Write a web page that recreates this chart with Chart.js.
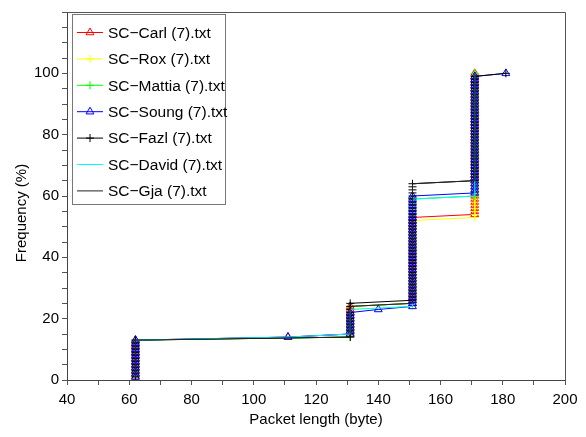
<!DOCTYPE html>
<html>
<head>
<meta charset="utf-8">
<script src="https://cdn.jsdelivr.net/npm/chart.js@4.4.0/dist/chart.umd.min.js"></script>
<style>
  body { margin: 0; background: #fff; }
  #wrap { width: 586px; height: 437px; }
</style>
</head>
<body>
<div id="wrap"><canvas id="cdf" width="586" height="437"></canvas></div>
<script>
// packet lengths seen in the captures (byte)
const lengths = [62, 111, 131, 140, 151, 171, 181];

// number of packets of each length, one array per capture file
const carl   = [13, 1, 10, 0, 29, 47, 0];
const rox    = [13, 0, 10, 0, 29, 48, 0];
const mattia = [13, 0, 11, 0, 35, 41, 0];
const soung  = [13, 1,  8, 1, 37, 39, 1];
const fazl   = [13, 0, 12, 0, 39, 35, 1];
const david  = [13, 1,  9, 0, 36, 41, 0];
const gja    = [13, 0, 11, 0, 40, 36, 0];

const names  = ['SC\u2212Carl (7).txt', 'SC\u2212Rox (7).txt', 'SC\u2212Mattia (7).txt',
                'SC\u2212Soung (7).txt', 'SC\u2212Fazl (7).txt', 'SC\u2212David (7).txt', 'SC\u2212Gja (7).txt'];
const counts = [carl, rox, mattia, soung, fazl, david, gja];
const colors = ['#ff0000', '#ffff00', '#00ff00', '#0000ff', '#000000', '#00ffff', '#222222'];
const marks  = ['triangle', 'cross', 'cross', 'triangle', 'cross', null, null];

const xTicks = [40, 60, 80, 100, 120, 140, 160, 180, 200];
const yTicks = [0, 20, 40, 60, 80, 100];

const FONT = 'Liberation Sans, Arial, Helvetica, sans-serif';

// cumulative frequency: one point per packet, sorted by length
function cdf(c) {
    var total = c.reduce(function (a, b) { return a + b; }, 0);
    var pts = [];
    var n = 0;
    for (let i = 0; i < lengths.length; i++) {
        for (let k = 0; k < c[i]; k++) {
            n++;
            pts.push({ x: lengths[i], y: n / total * 100 });
        }
    }
    return pts;
}

var datasets = [];
for (let i = 0; i < names.length; i++) {
    datasets.push({
        label: names[i],
        data: cdf(counts[i]),
        borderColor: colors[i],
        borderWidth: 1,
        pointStyle: marks[i] || 'circle',
        pointRadius: marks[i] == 'triangle' ? 4.5 : (marks[i] ? 4 : 0),
        pointBorderColor: colors[i],
        pointBackgroundColor: 'rgba(0,0,0,0)',
        pointBorderWidth: 1,
        pointHoverRadius: 0,
        fill: false,
        tension: 0,
        order: names.length - 1 - i
    });
}

function drawMark(ctx, style, x, y, r) {
    ctx.beginPath();
    if (style == 'triangle') {
        ctx.moveTo(x, y - r);
        ctx.lineTo(x + r * 0.866, y + r * 0.5);
        ctx.lineTo(x - r * 0.866, y + r * 0.5);
        ctx.closePath();
    } else {
        ctx.moveTo(x, y - r); ctx.lineTo(x, y + r);
        ctx.moveTo(x - r, y); ctx.lineTo(x + r, y);
    }
    ctx.stroke();
}

// frame, y title and the legend box in the upper left corner
const extras = {
    id: 'extras',
    afterDatasetsDraw(chart) {
        const ctx = chart.ctx;
        const a = chart.chartArea;
        ctx.save();
        ctx.strokeStyle = '#555';
        ctx.lineWidth = 1;
        ctx.beginPath();
        ctx.moveTo(Math.round(a.left) + 0.5, Math.round(a.top) + 0.5);
        ctx.lineTo(Math.round(a.right) + 0.5, Math.round(a.top) + 0.5);
        ctx.lineTo(Math.round(a.right) + 0.5, Math.round(a.bottom) + 0.5);
        ctx.stroke();

        ctx.fillStyle = '#000';
        ctx.font = '15px ' + FONT;
        ctx.textAlign = 'center';
        ctx.textBaseline = 'middle';
        ctx.translate(22, 213);
        ctx.rotate(-Math.PI / 2);
        ctx.fillText('Frequency (%)', 0, 0);
        ctx.restore();

        ctx.save();
        ctx.fillStyle = '#fff';
        ctx.fillRect(72.5, 14.5, 153, 190);
        ctx.strokeStyle = '#777';
        ctx.lineWidth = 1;
        ctx.strokeRect(72.5, 14.5, 153, 190);
        ctx.font = '15.5px ' + FONT;
        ctx.textAlign = 'left';
        ctx.textBaseline = 'middle';
        for (let i = 0; i < names.length; i++) {
            var y = 32.5 + i * 26.4;
            ctx.strokeStyle = colors[i];
            ctx.beginPath();
            ctx.moveTo(77, y);
            ctx.lineTo(103, y);
            ctx.stroke();
            if (marks[i]) drawMark(ctx, marks[i], 90, y, marks[i] == 'triangle' ? 4.5 : 4);
            ctx.fillStyle = '#000';
            ctx.fillText(names[i], 108, y + 1);
        }
        ctx.restore();
    }
};

const ctx = document.getElementById('cdf').getContext('2d');
const chart = new Chart(ctx, {
    type: 'line',
    data: { datasets: datasets },
    options: {
        responsive: false,
        animation: false,
        devicePixelRatio: 1,
        layout: { padding: { top: 7, right: 21, left: 0, bottom: 0 } },
        plugins: { legend: { display: false }, tooltip: { enabled: false } },
        scales: {
            x: {
                type: 'linear',
                min: 40,
                max: 200,
                afterFit: function (s) { s.height = 57; },
                afterBuildTicks: function (s) {
                    s.ticks = [];
                    for (let v = 40; v <= 200; v += 10) s.ticks.push({ value: v });
                },
                ticks: {
                    autoSkip: false,
                    maxRotation: 0,
                    padding: 6,
                    color: '#000',
                    font: { size: 15, family: FONT },
                    callback: function (v) { return xTicks.includes(v) ? String(v) : ''; }
                },
                grid: { drawOnChartArea: false, tickLength: 5, color: '#555' },
                border: { color: '#444' },
                title: {
                    display: true,
                    text: 'Packet length (byte)',
                    color: '#000',
                    font: { size: 15, family: FONT },
                    padding: { top: 0, bottom: 8 }
                }
            },
            y: {
                type: 'linear',
                min: 0,
                max: 120,
                afterFit: function (s) { s.width = 67; },
                afterBuildTicks: function (s) {
                    s.ticks = [];
                    for (let v = 0; v <= 120; v += 5) s.ticks.push({ value: v });
                },
                ticks: {
                    autoSkip: false,
                    padding: 3,
                    color: '#000',
                    font: { size: 15, family: FONT },
                    callback: function (v) { return yTicks.includes(v) ? String(v) : ''; }
                },
                grid: { drawOnChartArea: false, tickLength: 5, color: '#555' },
                border: { color: '#444' }
            }
        }
    },
    plugins: [extras]
});
</script>
</body>
</html>
